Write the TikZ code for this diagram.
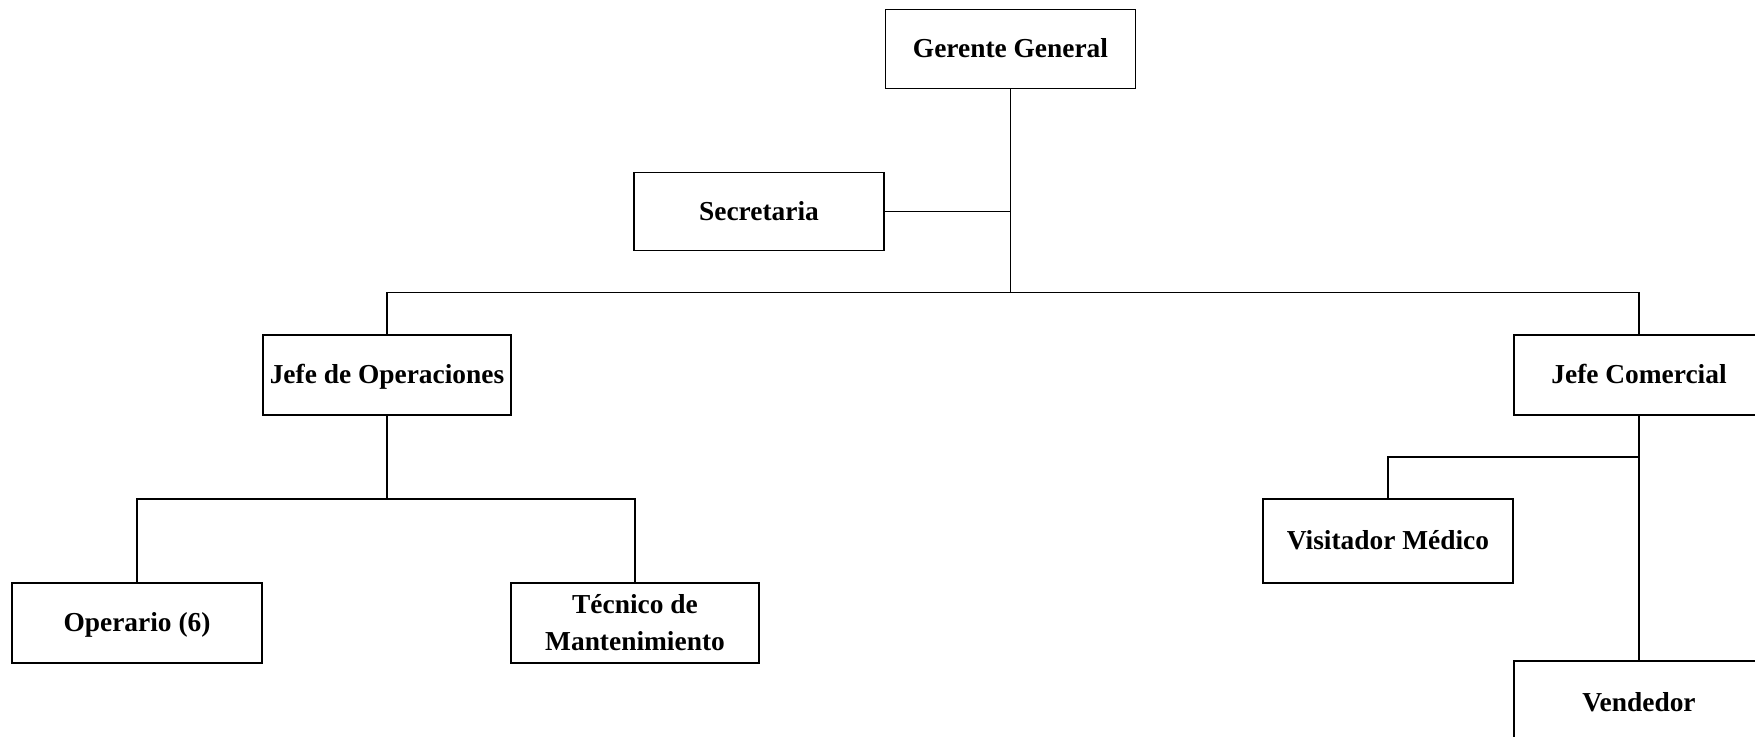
\documentclass[tikz,border=0pt]{standalone}
\usepackage{fontspec}
\setmainfont{Liberation Serif}
\begin{document}
\begin{tikzpicture}[x=0.02cm,y=-0.02cm,
    puesto/.style={draw, line width=0.8pt, minimum width=5cm, minimum height=1.6cm,
      inner sep=0pt, align=center, font=\fontsize{15.6}{21}\selectfont\bfseries},
    unalinea/.style={text height=1em, text depth=0pt},
    rama/.style={line width=0.8pt}]
      \useasboundingbox (0,0) rectangle (1755,737);
      % boxes
      \node[puesto, unalinea, minimum height=1.58cm] (gg) at (1010.5, 49) {Gerente General};
      \node[puesto, unalinea, minimum height=1.57cm] (sec) at (759, 211.5) {Secretaria};
      \node[puesto, unalinea, minimum width=4.96cm] (jo) at (387, 375) {Jefe de Operaciones};
      \node[puesto, unalinea] (jc) at (1639, 375) {Jefe Comercial};
      \node[puesto, unalinea] (op) at (137, 623) {Operario (6)};
      \node[puesto, minimum width=4.96cm] (tec) at (635, 623) {T\'ecnico de\\Mantenimiento};
      \node[puesto, unalinea, minimum height=1.68cm] (vis) at (1388, 541) {Visitador M\'edico};
      \node[puesto, unalinea, minimum height=1.68cm] (ven) at (1639, 703) {Vendedor};
      % bus points
      \coordinate (b1) at (1010.5, 292.7);
      \coordinate (b2) at (387, 499);
      \coordinate (b3) at (1639, 457);
      % branches
      \draw[rama] (gg.south) -- (b1);
      \draw[rama] (sec.east) -- (sec.east -| gg.south);
      \draw[rama] (jo.north) |- (b1) -| (jc.north);
      \draw[rama] (jo.south) -- (b2);
      \draw[rama] (op.north) |- (b2) -| (tec.north);
      \draw[rama] (jc.south) -- (ven.north);
      \draw[rama] (vis.north) |- (b3);
    \end{tikzpicture}
\end{document}
